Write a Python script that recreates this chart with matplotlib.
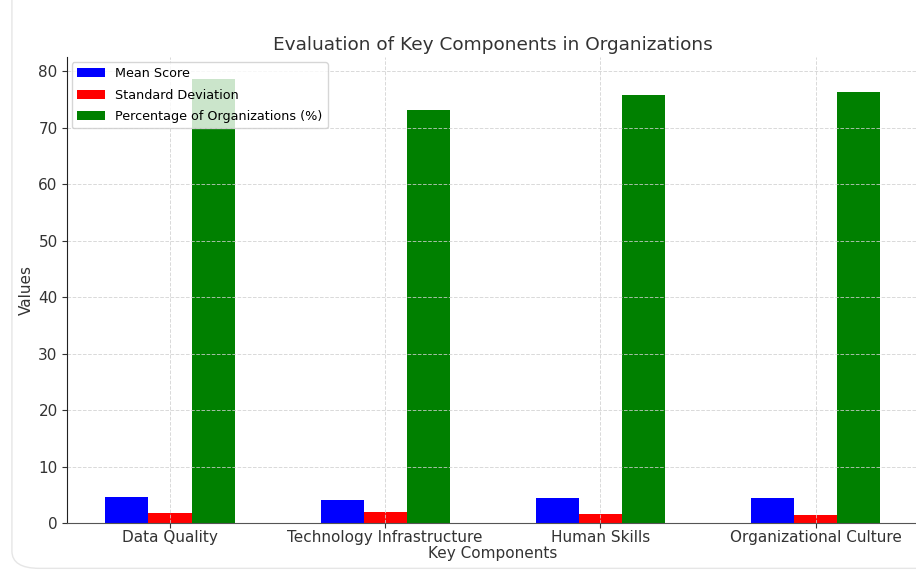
import matplotlib
matplotlib.use("Agg")
import matplotlib.pyplot as plt
import numpy as np
from matplotlib.patches import FancyBboxPatch

categories = ["Data Quality", "Technology Infrastructure", "Human Skills", "Organizational Culture"]
mean_score = [4.6, 4.1, 4.4, 4.4]
std_dev = [1.8, 1.9, 1.6, 1.5]
pct_orgs = [78.6, 73.1, 75.8, 76.3]

fig = plt.figure(figsize=(9.16, 5.77), dpi=100)
border = FancyBboxPatch((0.013, 0.015), 1.2, 1.2, boxstyle="round,pad=0,rounding_size=0.03",
                        transform=fig.transFigure, facecolor="none", edgecolor="#e6e6e6",
                        linewidth=1.0, zorder=0)
fig.patches.append(border)

ax = fig.add_axes([0.0728, 0.0936, 0.9305, 0.8074])
x = np.arange(len(categories))
w = 0.2
ax.bar(x - w, mean_score, w, color="blue", label="Mean Score")
ax.bar(x, std_dev, w, color="red", label="Standard Deviation")
ax.bar(x + w, pct_orgs, w, color="green", label="Percentage of Organizations (%)")

ax.set_xticks(x)
ax.set_xticklabels(categories, fontsize=11, color="#333333")
ax.tick_params(axis="y", labelsize=11, colors="#333333", pad=3)
ax.tick_params(axis="x", color="#333333", pad=1.5)
ax.tick_params(axis="y", color="#333333")
ax.set_xlabel("Key Components", fontsize=11, color="#333333", labelpad=1)
ax.set_ylabel("Values", fontsize=11, color="#333333", labelpad=3)
ax.set_title("Evaluation of Key Components in Organizations", fontsize=13.3, color="#333333", pad=5)
ax.grid(True, linestyle="--", color="#d0d0d0", linewidth=0.7, alpha=0.8)
for s in ["top", "right"]:
    ax.spines[s].set_visible(False)
ax.spines["left"].set_color("#222222")
ax.spines["bottom"].set_color("#555555")
ax.legend(loc="upper left", fontsize=9.2, framealpha=0.8, handlelength=2.2, labelspacing=0.65,
          borderaxespad=0.4)

fig.savefig("out.png", dpi=100)
